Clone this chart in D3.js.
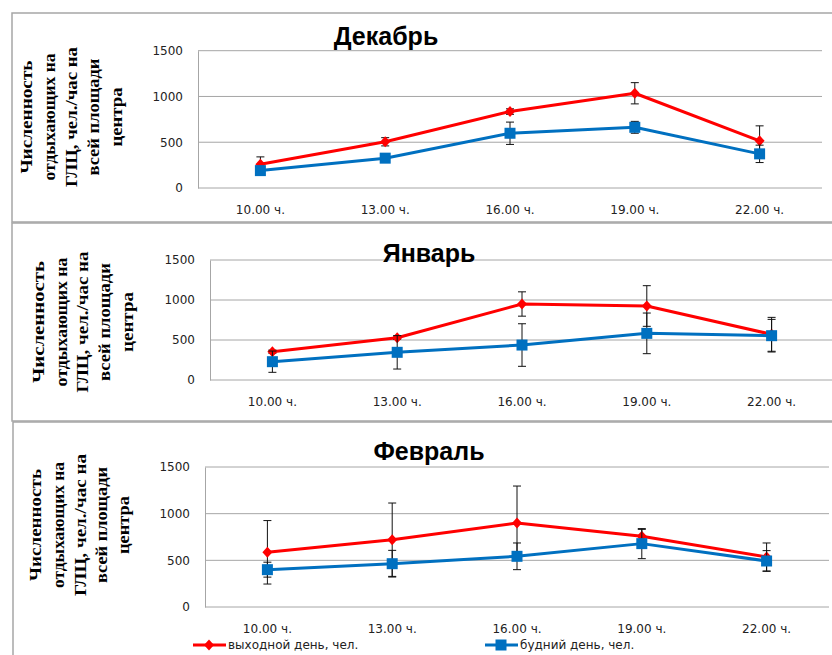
<!DOCTYPE html>
<html>
<head>
<meta charset="utf-8">
<script src="https://cdn.jsdelivr.net/npm/d3@7"></script>
<style>
  body { margin: 0; background: #fff; }
  svg { display: block; }
</style>
</head>
<body>
<script>
// categories and tick values
const hours = ['10.00 ч.', '13.00 ч.', '16.00 ч.', '19.00 ч.', '22.00 ч.'];
const months = ['Декабрь', 'Январь', 'Февраль'];
const yTicks = [0, 500, 1000, 1500];
const yTitleLines = ['Численность', 'отдыхающих на', 'ГЛЦ, чел./час на', 'всей площади', 'центра'];
const seriesNames = ['выходной день, чел.', 'будний день, чел.'];

// values (mean and error half-width)
const decWeekend = [260, 505, 835, 1035, 515];
const decWeekendErr = [80, 45, 30, 116, 164];
const decWeekday = [190, 326, 598, 663, 373];
const decWeekdayErr = [20, 25, 122, 65, 95];

const janWeekend = [354, 529, 950, 925, 571];
const janWeekendErr = [20, 20, 152, 254, 212];
const janWeekday = [229, 346, 437, 583, 554];
const janWeekdayErr = [133, 209, 266, 254, 204];

const febWeekend = [586, 721, 900, 757, 536];
const febWeekendErr = [340, 393, 396, 75, 150];
const febWeekday = [400, 464, 543, 679, 493];
const febWeekdayErr = [80, 143, 143, 161, 111];

const weekendByMonth = [decWeekend, janWeekend, febWeekend];
const weekendErrByMonth = [decWeekendErr, janWeekendErr, febWeekendErr];
const weekdayByMonth = [decWeekday, janWeekday, febWeekday];
const weekdayErrByMonth = [decWeekdayErr, janWeekdayErr, febWeekdayErr];

// layout of the three panels
const panels = [
  {box: [12, 13, 822, 209], left: 198, top: 50.7, bottom: 188, width: 624,
   title: [386, 45],
   yTitle: {cy: 117, x: [32, 55, 77, 99, 122], len: [113, 127, 140, 117, 59]}},
  {box: [12, 223, 822, 198], left: 210, top: 260, bottom: 380, width: 624,
   title: [429, 262],
   yTitle: {cy: 322, x: [44, 67, 88, 110, 133], len: [122, 129, 141, 118, 60]}},
  {box: [13, 422, 821, 245], left: 205, top: 467, bottom: 607, width: 624,
   title: [429, 460],
   yTitle: {cy: 525, x: [41, 64, 86, 107, 129], len: [112, 126, 142, 116, 58]}}
];

const RED = '#ff0000', BLUE = '#0070c0', GRID = '#a6a6a6';
const tickFont = '"DejaVu Sans", sans-serif';

const svg = d3.select('body').append('svg')
  .attr('width', 832)
  .attr('height', 655);

function diamond(g, cx, cy) {
  g.append('path')
    .attr('d', `M${cx},${cy - 5.5}L${cx + 5},${cy}L${cx},${cy + 5.5}L${cx - 5},${cy}Z`)
    .attr('fill', RED);
}
function square(g, cx, cy) {
  g.append('rect')
    .attr('x', cx - 5.5).attr('y', cy - 5.5)
    .attr('width', 11).attr('height', 11)
    .attr('fill', BLUE);
}

function drawSeries(g, x, y, values, errs, color, marker) {
  const line = d3.line()
    .x((d, i) => x(hours[i]) + x.bandwidth() / 2)
    .y(d => y(d));
  g.append('path')
    .datum(values)
    .attr('d', line)
    .attr('fill', 'none')
    .attr('stroke', color)
    .attr('stroke-width', 3)
    .attr('stroke-linejoin', 'round');
  // error bars
  const eb = g.append('g').attr('stroke', '#111').attr('stroke-width', 1);
  values.forEach((v, i) => {
    const cx = x(hours[i]) + x.bandwidth() / 2;
    const y1 = y(v + errs[i]), y0 = y(v - errs[i]);
    eb.append('line').attr('x1', cx).attr('x2', cx).attr('y1', y1).attr('y2', y0);
    eb.append('line').attr('x1', cx - 4).attr('x2', cx + 4).attr('y1', y1).attr('y2', y1);
    eb.append('line').attr('x1', cx - 4).attr('x2', cx + 4).attr('y1', y0).attr('y2', y0);
  });
  values.forEach((v, i) => marker(g, x(hours[i]) + x.bandwidth() / 2, y(v)));
}

panels.forEach((p, k) => {
  const g = svg.append('g');
  // panel frame
  g.append('rect')
    .attr('x', p.box[0]).attr('y', p.box[1])
    .attr('width', p.box[2]).attr('height', p.box[3])
    .attr('fill', 'none')
    .attr('stroke', GRID)
    .attr('stroke-width', 1.5);

  const x = d3.scaleBand().domain(hours).range([p.left, p.left + p.width]);
  const y = d3.scaleLinear().domain([0, 1500]).range([p.bottom, p.top]);

  // gridlines
  g.append('g').selectAll('line')
    .data(yTicks)
    .enter()
    .append('line')
    .attr('x1', p.left).attr('x2', p.left + p.width)
    .attr('y1', d => y(d)).attr('y2', d => y(d))
    .attr('stroke', GRID)
    .attr('stroke-width', 1);

  // y axis
  const yAxis = g.append('g')
    .attr('transform', `translate(${p.left},0)`)
    .call(d3.axisLeft(y).tickValues(yTicks).tickFormat(d3.format('d'))
      .tickSize(0).tickSizeOuter(0).tickPadding(15));
  yAxis.select('.domain').attr('stroke', GRID);
  yAxis.selectAll('text')
    .style('font-family', tickFont)
    .style('font-size', '12px')
    .attr('fill', '#222');

  // x axis
  const xAxis = g.append('g')
    .attr('transform', `translate(0,${p.bottom})`)
    .call(d3.axisBottom(x).tickSize(0).tickPadding(17));
  xAxis.select('.domain').remove();
  xAxis.selectAll('text')
    .style('font-family', tickFont)
    .style('font-size', '12px')
    .attr('fill', '#222');

  drawSeries(g, x, y, weekendByMonth[k], weekendErrByMonth[k], RED, diamond);
  drawSeries(g, x, y, weekdayByMonth[k], weekdayErrByMonth[k], BLUE, square);

  // title
  g.append('text')
    .attr('x', p.title[0]).attr('y', p.title[1])
    .attr('text-anchor', 'middle')
    .style('font-family', '"Liberation Sans", Arial, sans-serif')
    .style('font-weight', 'bold')
    .style('font-size', '25px')
    .text(months[k]);

  // rotated y title, stretched to the widths seen in the picture
  yTitleLines.forEach((t, i) => {
    g.append('text')
      .attr('transform', `translate(${p.yTitle.x[i]},${p.yTitle.cy}) rotate(-90)`)
      .attr('text-anchor', 'middle')
      .attr('textLength', p.yTitle.len[i])
      .attr('lengthAdjust', 'spacingAndGlyphs')
      .style('font-family', '"Liberation Serif", "Times New Roman", serif')
      .style('font-weight', 'bold')
      .style('font-size', '17px')
      .text(t);
  });
});

// legend under the last panel
const legend = svg.append('g').attr('transform', 'translate(0,645)');
[[193, RED, diamond], [485, BLUE, square]].forEach(([lx, color, marker], i) => {
  legend.append('line')
    .attr('x1', lx).attr('x2', lx + 33)
    .attr('y1', 0).attr('y2', 0)
    .attr('stroke', color).attr('stroke-width', 3);
  marker(legend, lx + 16, 0);
  legend.append('text')
    .attr('x', lx + 35).attr('y', 4)
    .style('font-family', tickFont)
    .style('font-size', '12px')
    .attr('fill', '#222')
    .text(seriesNames[i]);
});
</script>
</body>
</html>
